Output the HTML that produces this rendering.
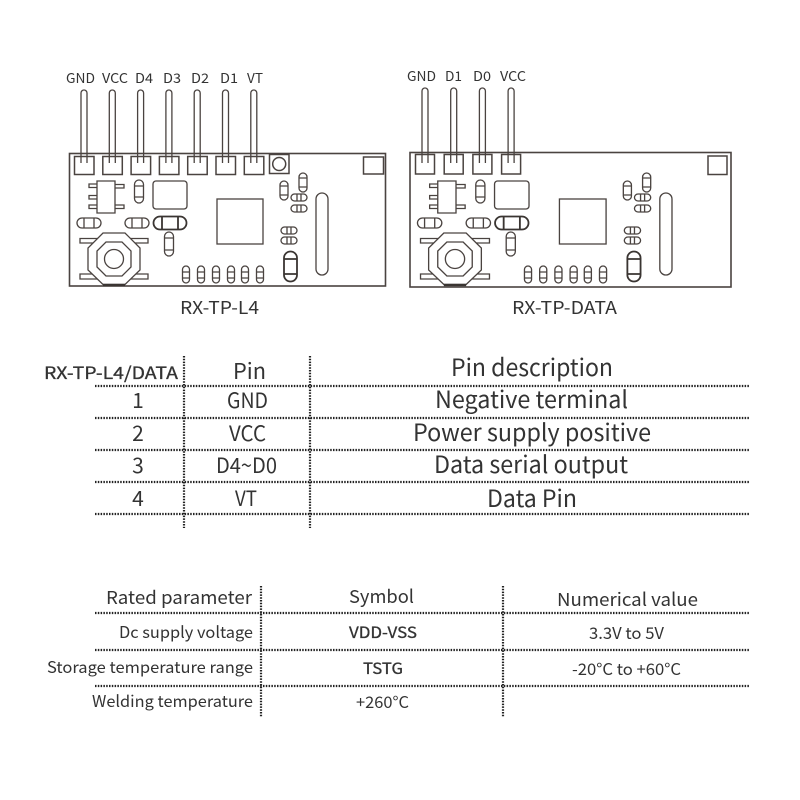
<!DOCTYPE html>
<html><head><meta charset="utf-8"><style>
html,body{margin:0;padding:0;background:#fff}
svg{display:block;filter:blur(.3px)}
text{font-family:"Noto Sans CJK SC","Liberation Sans",sans-serif;fill:#333;font-weight:400}
.m{stroke:#333;stroke-width:.3}
.l{stroke:#4a4340;fill:none;stroke-width:1.3}
.d{stroke:#3a3532;fill:none;stroke-width:1.800}
.h{stroke:#222;stroke-width:2.200;stroke-dasharray:1.500 1.300;fill:none}
</style></head><body>
<svg width="800" height="800" viewBox="0 0 800 800" xmlns="http://www.w3.org/2000/svg">
<defs>
<g id="c">
<path class="l" d="M97 181h18v32h-18zM89 184h8v3.5h-8zM89 195.500h8v3.500h-8zM89 205h8v3.500h-8zM115 184.500h9v3.500h-9zM115 205h9v3.500h-9z"/>
<rect class="l" x="153" y="181" width="34" height="28" rx="3"/>
<rect class="l" x="217" y="199" width="46" height="45"/>
<g class="l">
<rect x="134.500" y="180" width="9" height="23" rx="4.500"/><path d="M134.500 186h9M134.500 197h9"/>
<rect x="77" y="218" width="24" height="10" rx="5"/><path d="M84 218v10M94 218v10"/>
<rect x="125" y="218" width="24" height="10" rx="5"/><path d="M132 218v10M142 218v10"/>
<rect x="164.500" y="232" width="9" height="24" rx="4.500"/><path d="M164.500 238h9M164.500 250h9"/>
<path d="M80 238.500h68v4.500h-68zM80 274h68v5h-68z"/>
<path d="M103 233h22l15 15v22l-15 14.500h-22l-15-14.500v-22z" fill="#fff"/>
<path d="M106 242h16l9 9v16l-9 9h-16l-9-9v-16z"/>
<circle cx="114" cy="259" r="9.500"/>
<rect x="182.500" y="266" width="7" height="17" rx="3.500"/><path d="M182.500 272h7M182.500 278h7"/>
<rect x="197.500" y="266" width="7" height="17" rx="3.500"/><path d="M197.500 272h7M197.500 278h7"/>
<rect x="212.500" y="266" width="7" height="17" rx="3.500"/><path d="M212.500 272h7M212.500 278h7"/>
<rect x="227.500" y="266" width="7" height="17" rx="3.500"/><path d="M227.500 272h7M227.500 278h7"/>
<rect x="241.500" y="266" width="7" height="17" rx="3.500"/><path d="M241.500 272h7M241.500 278h7"/>
<rect x="256.500" y="266" width="7" height="17" rx="3.500"/><path d="M256.500 272h7M256.500 278h7"/>
<rect x="281" y="227" width="16" height="7" rx="3.500"/><path d="M287 227v7M291 227v7"/>
<rect x="281" y="237" width="16" height="7" rx="3.500"/><path d="M287 237v7M291 237v7"/>
<rect x="280" y="181" width="8" height="19" rx="4"/><path d="M280 186h8M280 195h8"/>
<rect x="299" y="173" width="8" height="19" rx="4"/><path d="M299 178h8M299 187h8"/>
<rect x="291" y="194" width="16" height="7" rx="3.500"/><path d="M297 194v7M301 194v7"/>
<rect x="291" y="205" width="16" height="7" rx="3.500"/><path d="M297 205v7M301 205v7"/>
<rect x="316" y="193" width="12" height="82" rx="6"/>
</g>
<path d="M103 285h22" stroke="#3a3532" stroke-width="2.500"/>
<g class="d">
<rect x="153.500" y="216.500" width="33" height="13" rx="6.500"/><path d="M162 216.500v13M178 216.500v13"/>
<rect x="284" y="251.500" width="13" height="30" rx="6.500"/><path d="M284 259h13M284 274h13"/>
</g>
</g>
</defs>

<!-- left board -->
<g class="l">
<path d="M81 163V93a3 3 0 0 1 6 0v70M109.300 163V93a3 3 0 0 1 6 0v70M137.600 163V93a3 3 0 0 1 6 0v70M165.900 163V93a3 3 0 0 1 6 0v70M194.200 163V93a3 3 0 0 1 6 0v70M222.500 163V93a3 3 0 0 1 6 0v70M250.800 163V93a3 3 0 0 1 6 0v70"/>
</g>
<rect x="69.500" y="153.500" width="316" height="132.500" fill="none" stroke="#4a4340" stroke-width="1.600"/>
<g class="l" style="stroke-width:1.500">
<rect x="74.500" y="156.500" width="19.500" height="18"/><rect x="102.800" y="156.500" width="19.500" height="18"/><rect x="131.100" y="156.500" width="19.500" height="18"/><rect x="159.400" y="156.500" width="19.500" height="18"/><rect x="187.700" y="156.500" width="19.500" height="18"/><rect x="216" y="156.500" width="19.500" height="18"/><rect x="244.300" y="156.500" width="19.500" height="18"/>
<rect x="269.500" y="154.500" width="19.500" height="19"/><circle cx="279.200" cy="164" r="6.500"/>
<rect x="363.500" y="157" width="20" height="17"/>
</g>
<use href="#c"/>

<!-- right board -->
<g class="l">
<path d="M422 163V91a3 3 0 0 1 6 0v72M450.700 163V91a3 3 0 0 1 6 0v72M479.400 163V91a3 3 0 0 1 6 0v72M508.100 163V91a3 3 0 0 1 6 0v72"/>
</g>
<rect x="410" y="152.500" width="321" height="134.500" fill="none" stroke="#4a4340" stroke-width="1.600"/>
<g class="l" style="stroke-width:1.500">
<rect x="415.500" y="154.500" width="19" height="19.500"/><rect x="444.200" y="154.500" width="19" height="19.500"/><rect x="472.900" y="154.500" width="19" height="19.500"/><rect x="501.600" y="154.500" width="19" height="19.500"/>
<rect x="708" y="156" width="19" height="18.500"/>
</g>
<use href="#c" transform="translate(339.400 0) scale(1.014 1)"/>

<!-- board labels -->
<g font-size="13.500">
<text x="66" y="83" textLength="29" lengthAdjust="spacingAndGlyphs">GND</text>
<text x="102" y="83" textLength="26" lengthAdjust="spacingAndGlyphs">VCC</text>
<text x="135" y="83" textLength="18" lengthAdjust="spacingAndGlyphs">D4</text>
<text x="163" y="83" textLength="18" lengthAdjust="spacingAndGlyphs">D3</text>
<text x="191" y="83" textLength="18" lengthAdjust="spacingAndGlyphs">D2</text>
<text x="220" y="83" textLength="18" lengthAdjust="spacingAndGlyphs">D1</text>
<text x="247" y="83" textLength="16" lengthAdjust="spacingAndGlyphs">VT</text>
<text x="407" y="81" textLength="29" lengthAdjust="spacingAndGlyphs">GND</text>
<text x="445" y="81" textLength="17" lengthAdjust="spacingAndGlyphs">D1</text>
<text x="473" y="81" textLength="18" lengthAdjust="spacingAndGlyphs">D0</text>
<text x="500" y="81" textLength="26" lengthAdjust="spacingAndGlyphs">VCC</text>
</g>
<text x="180" y="314" font-size="18" textLength="79" lengthAdjust="spacingAndGlyphs">RX-TP-L4</text>
<text x="512" y="314" font-size="18" textLength="105" lengthAdjust="spacingAndGlyphs">RX-TP-DATA</text>

<!-- table 1 -->
<g class="h">
<path d="M95 386H750M95 418H750M95 450H750M95 482H750M95 514H750"/>
<path d="M184 356V528M310 356V528"/>
</g>
<text x="44" y="379" font-size="17" class="m" textLength="134" lengthAdjust="spacingAndGlyphs">RX-TP-L4/DATA</text>
<text x="233" y="379" font-size="22" textLength="33" lengthAdjust="spacingAndGlyphs">Pin</text>
<text x="451" y="376" font-size="24" textLength="162" lengthAdjust="spacingAndGlyphs">Pin description</text>
<g font-size="21">
<text x="138" y="408" text-anchor="middle">1</text>
<text x="138" y="441" text-anchor="middle">2</text>
<text x="138" y="473" text-anchor="middle">3</text>
<text x="138" y="506" text-anchor="middle">4</text>
<text x="227" y="408" textLength="41" lengthAdjust="spacingAndGlyphs">GND</text>
<text x="229" y="441" textLength="37" lengthAdjust="spacingAndGlyphs">VCC</text>
<text x="216" y="473" textLength="61" lengthAdjust="spacingAndGlyphs">D4~D0</text>
<text x="235" y="506" textLength="22" lengthAdjust="spacingAndGlyphs">VT</text>
</g>
<g font-size="24">
<text x="435" y="408" textLength="193" lengthAdjust="spacingAndGlyphs">Negative terminal</text>
<text x="413" y="441" textLength="238" lengthAdjust="spacingAndGlyphs">Power supply positive</text>
<text x="434" y="473" textLength="194" lengthAdjust="spacingAndGlyphs">Data serial output</text>
<text x="487" y="507" textLength="90" lengthAdjust="spacingAndGlyphs">Data Pin</text>
</g>

<!-- table 2 -->
<g class="h">
<path d="M95 613H750M95 650H750M95 686H750"/>
<path d="M261 586V717M503 586V717"/>
</g>
<text x="106" y="604" font-size="18" textLength="146" lengthAdjust="spacingAndGlyphs">Rated parameter</text>
<text x="119" y="638" font-size="16" textLength="134" lengthAdjust="spacingAndGlyphs">Dc supply voltage</text>
<text x="47" y="673" font-size="16" textLength="206" lengthAdjust="spacingAndGlyphs">Storage temperature range</text>
<text x="92" y="707" font-size="16" textLength="161" lengthAdjust="spacingAndGlyphs">Welding temperature</text>
<text x="349" y="603" font-size="18" textLength="65" lengthAdjust="spacingAndGlyphs">Symbol</text>
<text x="349" y="638" font-size="15.500" class="m" textLength="68" lengthAdjust="spacingAndGlyphs">VDD-VSS</text>
<text x="363" y="674" font-size="15.500" class="m" textLength="40" lengthAdjust="spacingAndGlyphs">TSTG</text>
<text x="356" y="708" font-size="16" textLength="53" lengthAdjust="spacingAndGlyphs">+260°C</text>
<text x="557" y="606" font-size="18" textLength="141" lengthAdjust="spacingAndGlyphs">Numerical value</text>
<text x="589" y="639" font-size="16" textLength="75" lengthAdjust="spacingAndGlyphs">3.3V to 5V</text>
<text x="572" y="675" font-size="16" textLength="109" lengthAdjust="spacingAndGlyphs">-20°C to +60°C</text>
</svg>
</body></html>
